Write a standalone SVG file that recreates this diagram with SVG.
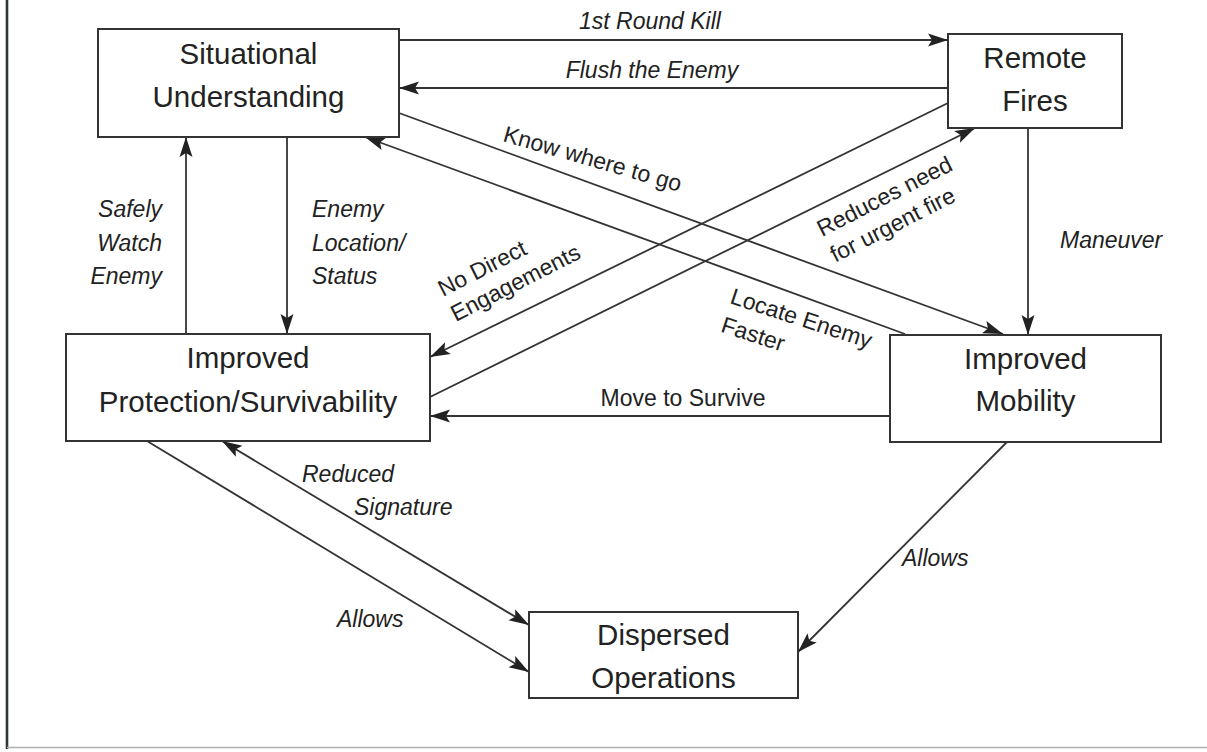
<svg xmlns="http://www.w3.org/2000/svg" width="1207" height="752" viewBox="0 0 1207 752">
<defs>
<style>
.box{fill:#fff;stroke:#333;stroke-width:2}
.nt{font-family:"Liberation Sans",Arial,sans-serif;font-size:29.5px;fill:#222;text-anchor:middle}
.lb{font-family:"Liberation Sans",Arial,sans-serif;font-size:23px;fill:#222}
.it{font-style:italic}
.c{fill:none;stroke:#333;stroke-width:1.8}
</style>
<marker id="ah" markerWidth="20" markerHeight="14" refX="20" refY="7" orient="auto-start-reverse" markerUnits="userSpaceOnUse"><path d="M0,0.5 L20,7 L0,13.5 L4,7 z" fill="#222"/></marker>
</defs>
<rect x="0" y="0" width="1207" height="752" fill="#fff"/>
<g id="frame">
<line x1="7" y1="0" x2="7" y2="749" stroke="#2e3a33" stroke-width="2.6"/>
<line x1="7" y1="747.5" x2="1207" y2="747.5" stroke="#b0b0b0" stroke-width="1.5"/>
</g>
<g id="connectors" class="c">
<line x1="399" y1="40" x2="948" y2="40" marker-end="url(#ah)"/>
<line x1="948" y1="88" x2="399" y2="88" marker-end="url(#ah)"/>
<line x1="399" y1="113" x2="1003" y2="334" marker-end="url(#ah)"/>
<line x1="905" y1="334" x2="365" y2="137" marker-end="url(#ah)"/>
<line x1="948" y1="103" x2="430" y2="357" marker-end="url(#ah)"/>
<line x1="430" y1="397" x2="975" y2="128" marker-end="url(#ah)"/>
<line x1="287" y1="137" x2="287" y2="334" marker-end="url(#ah)"/>
<line x1="186" y1="334" x2="186" y2="137" marker-end="url(#ah)"/>
<line x1="1028" y1="128" x2="1028" y2="335" marker-end="url(#ah)"/>
<line x1="890" y1="416" x2="430" y2="416" marker-end="url(#ah)"/>
<line x1="147" y1="441" x2="529" y2="672" marker-end="url(#ah)"/>
<line x1="222" y1="441" x2="529" y2="625" marker-start="url(#ah)" marker-end="url(#ah)"/>
<line x1="1007" y1="442" x2="798" y2="652" marker-end="url(#ah)"/>
</g>
<g id="labels" class="lb">
<text class="it" x="650" y="29" text-anchor="middle">1st Round Kill</text>
<text class="it" x="652" y="78" text-anchor="middle">Flush the Enemy</text>
<text transform="translate(502,141) rotate(16)">Know where to go</text>
<text transform="translate(729,303) rotate(18)"><tspan x="0" y="0">Locate Enemy</tspan><tspan x="0" y="30">Faster</tspan></text>
<text transform="translate(443,297) rotate(-27)"><tspan x="0" y="0">No Direct</tspan><tspan x="0" y="28">Engagements</tspan></text>
<text transform="translate(822,237) rotate(-27)"><tspan x="0" y="0">Reduces need</tspan><tspan x="0" y="29">for urgent fire</tspan></text>
<text class="it" x="162" text-anchor="end"><tspan x="162" y="217">Safely</tspan><tspan x="162" y="250.5">Watch</tspan><tspan x="162" y="284">Enemy</tspan></text>
<text class="it"><tspan x="312" y="217">Enemy</tspan><tspan x="312" y="250.5">Location/</tspan><tspan x="312" y="284">Status</tspan></text>
<text class="it" x="1060" y="248">Maneuver</text>
<text x="683" y="406" text-anchor="middle">Move to Survive</text>
<text class="it"><tspan x="302" y="482">Reduced</tspan><tspan x="354" y="515">Signature</tspan></text>
<text class="it" x="337" y="627">Allows</text>
<text class="it" x="902" y="566">Allows</text>
</g>
<g id="situational">
<rect class="box" x="98" y="29" width="301" height="108"/>
<text class="nt"><tspan x="248.5" y="64">Situational</tspan><tspan x="248.5" y="107">Understanding</tspan></text>
</g>
<g id="remote-fires">
<rect class="box" x="948" y="34" width="174" height="94"/>
<text class="nt"><tspan x="1035" y="68">Remote</tspan><tspan x="1035" y="111">Fires</tspan></text>
</g>
<g id="protection">
<rect class="box" x="66" y="334" width="364" height="107"/>
<text class="nt"><tspan x="248" y="368">Improved</tspan><tspan x="248" y="412">Protection/Survivability</tspan></text>
</g>
<g id="mobility">
<rect class="box" x="890" y="335" width="271" height="107"/>
<text class="nt"><tspan x="1025.5" y="369">Improved</tspan><tspan x="1025.5" y="411">Mobility</tspan></text>
</g>
<g id="dispersed">
<rect class="box" x="529" y="612" width="269" height="86"/>
<text class="nt"><tspan x="663.5" y="645">Dispersed</tspan><tspan x="663.5" y="688">Operations</tspan></text>
</g>
</svg>
